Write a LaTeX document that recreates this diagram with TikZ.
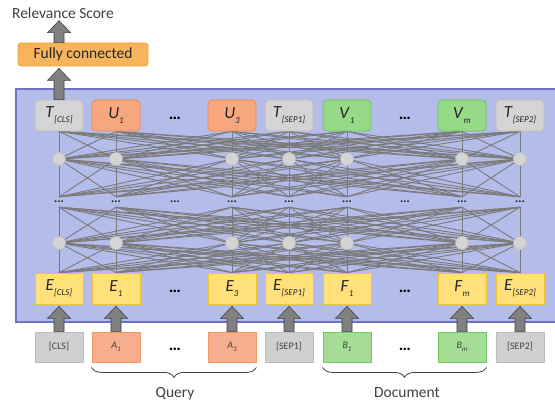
\documentclass[tikz,border=0pt]{standalone}
\usepackage{fontspec}
\setmainfont{Carlito}
\usepackage{xcolor}
\usetikzlibrary{calc,decorations.pathreplacing}

\pgfdeclarelayer{panel}
\pgfdeclarelayer{links}
\pgfsetlayers{panel,links,main}

\definecolor{panelfill}{HTML}{B4BCEA}
\definecolor{paneldraw}{HTML}{6C74C0}
\definecolor{fcfill}{HTML}{F8B45C}
\definecolor{fcdraw}{HTML}{F0A030}
\definecolor{fgray}{HTML}{D4D4D4}
\definecolor{dgray}{HTML}{BEBEBE}
\definecolor{forange}{HTML}{F7A77E}
\definecolor{dorange}{HTML}{F08A4B}
\definecolor{fgreen}{HTML}{96D987}
\definecolor{dgreen}{HTML}{6CC35A}
\definecolor{fyellow}{HTML}{FFE07A}
\definecolor{dyellow}{HTML}{F2C530}
\definecolor{finorange}{HTML}{F7AE8E}
\definecolor{dinorange}{HTML}{F39765}
\definecolor{fingreen}{HTML}{A6DD96}
\definecolor{dingreen}{HTML}{76C865}
\definecolor{fingray}{HTML}{D0D0D0}
\definecolor{dingray}{HTML}{BCBCBC}
\definecolor{linkgray}{HTML}{7A7A7A}
\definecolor{textgray}{HTML}{404040}

% token label with a lowered subscript
\newcommand{\tok}[2]{\textit{#1}\raisebox{-5pt}{\fontsize{9}{9}\selectfont\textit{#2}}}
\newcommand{\tokin}[2]{\textit{#1}\raisebox{-3.5pt}{\fontsize{7}{7}\selectfont\textit{#2}}}
% fat gray arrow from #1 (base) up to #2 (tip)
\newcommand{\blockarrow}[2]{%
  \draw[blockarr] let \p1=(#1), \p2=(#2) in
    (\x1-5pt,\y1) -- (\x1-5pt,\y2-12pt) -- (\x1-11.5pt,\y2-12pt) -- (\x1,\y2)
    -- (\x1+11.5pt,\y2-12pt) -- (\x1+5pt,\y2-12pt) -- (\x1+5pt,\y1) -- cycle;}

\tikzset{
  tokbox/.style={minimum width=48pt, minimum height=31pt, inner sep=0pt, line width=0.8pt,
    rounded corners=4pt, text=black!85, font=\fontsize{17}{17}\selectfont},
  embbox/.style={tokbox, rounded corners=0pt, fill=fyellow, draw=dyellow},
  inbox/.style={minimum width=48pt, minimum height=30pt, inner sep=0pt, line width=0.8pt,
    text=textgray, font=\fontsize{10}{10}\selectfont},
  hid/.style={circle, minimum size=13pt, inner sep=0pt, fill=fgray, draw=dgray, line width=0.6pt},
  midgap/.style={minimum height=10pt, minimum width=6pt, inner sep=0pt, text=black!90,
    font=\fontsize{12}{12}\selectfont\bfseries},
  gaps/.style={inner sep=0pt, font=\fontsize{17}{17}\selectfont\bfseries},
  link/.style={linkgray, line width=0.9pt},
  blockarr/.style={fill=black!50, draw=black!75, line width=0.6pt},
  lbl/.style={inner sep=0pt, text=textgray, font=\fontsize{15.5}{15.5}\selectfont},
  brc/.style={decorate, decoration={brace, mirror, amplitude=10pt}, textgray, line width=0.8pt}
}

\begin{document}
\begin{tikzpicture}[x=1pt, y=-1pt]
\clip (0,0) rectangle (555,401);

% --- head: score and fully connected layer ---
\node[lbl] (score) at (63,13) {Relevance Score};
\node[minimum width=130pt, minimum height=23pt, inner sep=0pt, rounded corners=3pt,
  fill=fcfill, draw=fcdraw, line width=0.8pt, text=black!85,
  font=\fontsize{15.5}{15.5}\selectfont] (fc) at (83,54.5) {Fully connected};

% --- BERT panel ---
\begin{pgfonlayer}{panel}
\draw[fill=panelfill, draw=paneldraw, line width=1.2pt] (16,89) rectangle (570,322);
\end{pgfonlayer}

% output tokens
\foreach \x/\lab/\col [count=\i] in {59/{\tok{T}{[CLS]}}/gray, 116/{\tok{U}{1}}/orange,
    232/{\tok{U}{3}}/orange, 289/{\tok{T}{[SEP1]}}/gray, 347/{\tok{V}{1}}/green,
    462/{\tok{V}{m}}/green, 520/{\tok{T}{[SEP2]}}/gray}
  \node[tokbox, fill=f\col, draw=d\col] (t\i) at (\x,115.5) {\lab};

% embeddings
\foreach \x/\lab [count=\i] in {59/{\tok{E}{[CLS]}}, 116/{\tok{E}{1}}, 232/{\tok{E}{3}},
    289/{\tok{E}{[SEP1]}}, 347/{\tok{F}{1}}, 462/{\tok{F}{m}}, 520/{\tok{E}{[SEP2]}}}
  \node[embbox] (e\i) at (\x,288.5) {\lab};

% hidden layers
\foreach \x [count=\i] in {59,116,232,289,347,462,520} {
  \node[hid] (h\i) at (\x,159) {};
  \node[midgap] (d\i) at (\x,202) {...};
  \node[hid] (g\i) at (\x,243) {};
}
\node[midgap] (dq) at (175,202) {...};
\node[midgap] (dd) at (405,202) {...};

% full connections between layers (under the circles)
\begin{pgfonlayer}{links}
\foreach \i in {1,...,7}
  \foreach \j in {1,...,7} {
    \draw[link] (t\i.south) -- (h\j.center);
    \draw[link] (h\i.center) -- (d\j.north);
    \draw[link] (d\i.south) -- (g\j.center);
    \draw[link] (g\i.center) -- (e\j.north);
  }
\end{pgfonlayer}

\node[gaps] (tq) at (175,118) {…};
\node[gaps] (td) at (405,118) {…};
\node[gaps] (eq) at (175,291) {…};
\node[gaps] (ed) at (405,291) {…};

% --- input tokens ---
\foreach \x/\lab/\col [count=\i] in {59/{[CLS]}/gray, 116/{\tokin{A}{1}}/orange,
    232/{\tokin{A}{3}}/orange, 289/{[SEP1]}/gray, 347/{\tokin{B}{1}}/green,
    462/{\tokin{B}{m}}/green, 520/{[SEP2]}/gray}
  \node[inbox, fill=fin\col, draw=din\col] (in\i) at (\x,347) {\lab};
\node[gaps] (iq) at (175,349) {…};
\node[gaps] (id) at (405,349) {…};

% --- fat arrows ---
\foreach \i in {1,...,7}
  \blockarrow{in\i.north}{[yshift=-2pt]e\i.south};
\blockarrow{t1.north}{[yshift=-2pt]fc.south -| t1}
\blockarrow{fc.north -| t1}{[yshift=-2pt]score.south -| t1}

% --- segments ---
\draw[brc] ([yshift=-5pt]in2.south west) -- ([yshift=-5pt]in3.south east);
\draw[brc] ([yshift=-5pt]in5.south west) -- ([yshift=-5pt]in6.south east);
\node[lbl, anchor=base] (query) at (175,397) {Query};
\node[lbl, anchor=base] (doc) at (407,397) {Document};
\end{tikzpicture}
\end{document}
